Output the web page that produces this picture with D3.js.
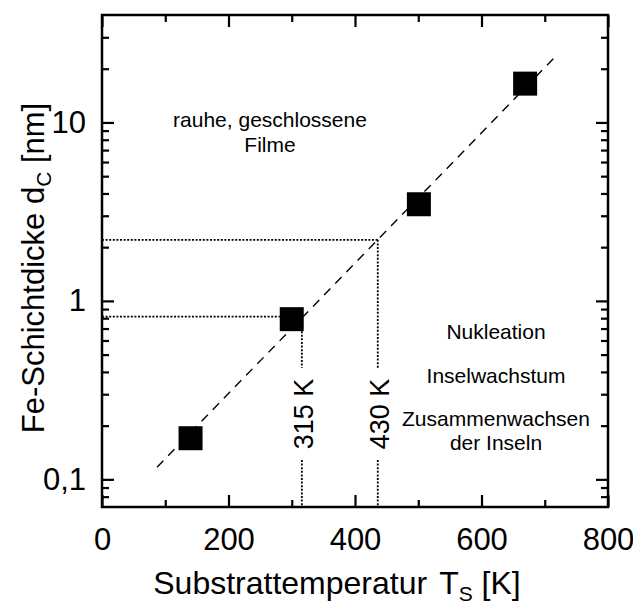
<!DOCTYPE html>
<html>
<head>
<meta charset="utf-8">
<script src="https://cdn.jsdelivr.net/npm/d3@7"></script>
<style>
  html, body { margin: 0; padding: 0; background: #fff; }
  svg { display: block; font-family: 'Liberation Sans', Arial, Helvetica, sans-serif; }
</style>
</head>
<body>
<script>
// Messpunkte
const tempK = [140, 300, 501, 669]
const thickNm = [0.17, 0.79, 3.48, 16.5]

// Ausgleichsgerade (gestrichelt)
const fitK = [87, 718]
const fitNm = [0.117, 23.6]

// Hilfslinien (gepunktet)
const guideK = [316, 436]
const guideNm = [0.817, 2.2]
const guideLabels = ['315 K', '430 K']

// Achsen
const xMajor = [0, 200, 400, 600, 800]
const xMinor = [100, 300, 500, 700]
const xLabels = ['0', '200', '400', '600', '800']
const yMajor = [0.1, 1, 10]
const yLabels = ['0,1', '1', '10']
const yMinor = [0.08, 0.09, 0.2, 0.3, 0.4, 0.5, 0.6, 0.7, 0.8, 0.9, 2, 3, 4, 5, 6, 7, 8, 9, 20, 30]

// Beschriftungen
const topNote = ['rauhe, geschlossene', 'Filme']
const rightNote = ['Nukleation', 'Inselwachstum', 'Zusammenwachsen', 'der Inseln']

const W = 633, H = 604
const pLeft = 102, pRight = 608, pTop = 15, pBottom = 507

const svg = d3.select('body')
  .append('svg')
  .attr('width', W)
  .attr('height', H)

const x = d3.scaleLinear().domain([0, 800]).range([pLeft, pRight])
const y = d3.scaleLog().domain([0.07, 40]).range([pBottom, pTop])

// Achsen mit Ticks nach innen
function axis(gen, tx, ty, values, size, labels, pad) {
  const g = svg.append('g')
    .attr('transform', `translate(${tx},${ty})`)
    .call(gen.tickValues(values).tickSize(size).tickPadding(pad || 3)
      .tickFormat((d, i) => labels ? labels[i] : ''))
  g.select('.domain').remove()
  g.selectAll('line').attr('stroke', '#000').attr('stroke-width', 2.2)
  g.selectAll('text').attr('fill', '#000').style('font-size', '31px')
    .style('font-family', "'Liberation Sans', Arial, sans-serif")
  return g
}

axis(d3.axisBottom(x), 0, pBottom, xMajor, -12, xLabels, 21)
axis(d3.axisBottom(x), 0, pBottom, xMinor, -7)
axis(d3.axisTop(x), 0, pTop, xMajor, -12)
axis(d3.axisTop(x), 0, pTop, xMinor, -7)
axis(d3.axisLeft(y), pLeft, 0, yMajor, -12, yLabels, 16)
axis(d3.axisLeft(y), pLeft, 0, yMinor, -7)
axis(d3.axisRight(y), pRight, 0, yMajor, -12)
axis(d3.axisRight(y), pRight, 0, yMinor, -7)

// Rahmen
svg.append('rect')
  .attr('x', pLeft)
  .attr('y', pTop)
  .attr('width', pRight - pLeft)
  .attr('height', pBottom - pTop)
  .attr('fill', 'none')
  .attr('stroke', '#000')
  .attr('stroke-width', 2.5)

// Ausgleichsgerade
svg.append('line')
  .attr('x1', x(fitK[0])).attr('y1', y(fitNm[0]))
  .attr('x2', x(fitK[1])).attr('y2', y(fitNm[1]))
  .attr('stroke', '#000')
  .attr('stroke-width', 1.4)
  .attr('stroke-dasharray', '9,7')

const sq = 24
const labelMid = 414, gapTop = 368, gapBottom = 460

// gepunktete Hilfslinien
const dotted = g => g.attr('stroke', '#000').attr('stroke-width', 1.8).attr('stroke-dasharray', '2,1.6')

svg.append('line').call(dotted)
  .attr('x1', pLeft).attr('x2', x(tempK[1]) - sq / 2)
  .attr('y1', y(guideNm[0])).attr('y2', y(guideNm[0]))
svg.append('line').call(dotted)
  .attr('x1', pLeft).attr('x2', x(guideK[1]))
  .attr('y1', y(guideNm[1])).attr('y2', y(guideNm[1]))

const vStart = [y(thickNm[1]) + sq / 2, y(guideNm[1])]
guideK.forEach((k, i) => {
  svg.append('line').call(dotted)
    .attr('x1', x(k)).attr('x2', x(k))
    .attr('y1', vStart[i]).attr('y2', gapTop)
  svg.append('line').call(dotted)
    .attr('x1', x(k)).attr('x2', x(k))
    .attr('y1', gapBottom).attr('y2', pBottom)
  svg.append('text')
    .attr('transform', `translate(${x(k) + 1},${labelMid}) rotate(-90)`)
    .attr('text-anchor', 'middle')
    .attr('dy', '0.36em')
    .style('font-size', '27px')
    .text(guideLabels[i])
})

// Messpunkte als Quadrate
svg.selectAll('rect.pt')
  .data(tempK)
  .enter()
  .append('rect')
  .attr('class', 'pt')
  .attr('x', (d, i) => x(d) - sq / 2)
  .attr('y', (d, i) => y(thickNm[i]) - sq / 2)
  .attr('width', sq)
  .attr('height', sq)
  .attr('fill', '#000')

// Textfelder
svg.selectAll('text.top')
  .data(topNote)
  .enter()
  .append('text')
  .attr('class', 'top')
  .attr('x', 270)
  .attr('y', (d, i) => 127 + i * 25)
  .attr('text-anchor', 'middle')
  .style('font-size', '21px')
  .text(d => d)

const rightY = [339, 383, 426, 450]
svg.selectAll('text.right')
  .data(rightNote)
  .enter()
  .append('text')
  .attr('class', 'right')
  .attr('x', 496)
  .attr('y', (d, i) => rightY[i])
  .attr('text-anchor', 'middle')
  .style('font-size', '21px')
  .text(d => d)

// Achsentitel
const xt = svg.append('text')
  .attr('x', 337)
  .attr('y', 594)
  .attr('text-anchor', 'middle')
  .style('font-size', '32px')
xt.append('tspan').text('Substrattemperatur')
xt.append('tspan').attr('dx', 12).text('T')
xt.append('tspan').attr('dy', 7).style('font-size', '21px').text('S')
xt.append('tspan').attr('dy', -7).text(' [K]')

const yt = svg.append('text')
  .attr('transform', 'translate(44,268) rotate(-90)')
  .attr('text-anchor', 'middle')
  .style('font-size', '31px')
yt.append('tspan').text('Fe-Schichtdicke d')
yt.append('tspan').attr('dy', 7).style('font-size', '21px').text('C')
yt.append('tspan').attr('dy', -7).text(' [nm]')
</script>
</body>
</html>
